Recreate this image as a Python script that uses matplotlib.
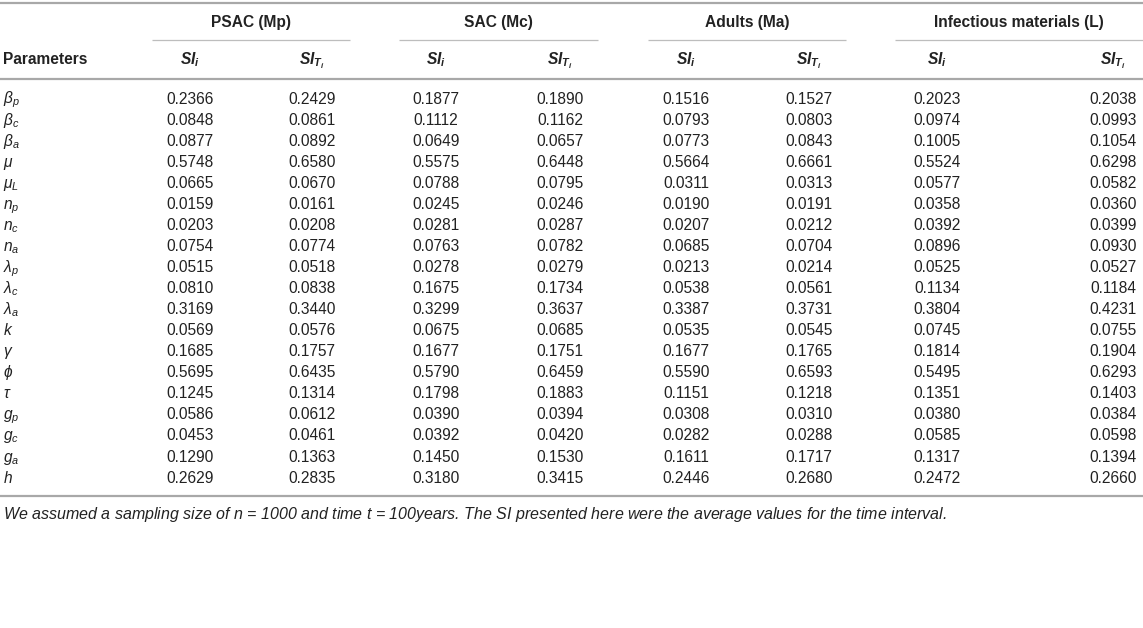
import matplotlib
matplotlib.use('Agg')
import matplotlib.pyplot as plt

plt.rcParams['font.family'] = ['Liberation Sans', 'DejaVu Sans']
plt.rcParams['mathtext.fontset'] = 'custom'
plt.rcParams['mathtext.rm'] = 'Liberation Sans'
plt.rcParams['mathtext.it'] = 'Liberation Sans:italic'
plt.rcParams['mathtext.bf'] = 'Liberation Sans:bold'
plt.rcParams['mathtext.bfit'] = 'Liberation Sans:italic:bold'

# table content
groups = ['PSAC (Mp)', 'SAC (Mc)', 'Adults (Ma)', 'Infectious materials (L)']
sub_headers = [r'$\mathbfit{SI}_{\mathbfit{i}}$', r'$\mathbfit{SI}_{\mathbfit{T}_{\mathbfit{i}}}$']
params = [r'$\beta_p$', r'$\beta_c$', r'$\beta_a$', r'$\mu$', r'$\mu_L$', r'$n_p$', r'$n_c$', r'$n_a$',
          r'$\lambda_p$', r'$\lambda_c$', r'$\lambda_a$', r'$k$', r'$\gamma$', r'$\phi$', r'$\tau$',
          r'$g_p$', r'$g_c$', r'$g_a$', r'$h$']

psac_si = [0.2366, 0.0848, 0.0877, 0.5748, 0.0665, 0.0159, 0.0203, 0.0754, 0.0515, 0.0810,
           0.3169, 0.0569, 0.1685, 0.5695, 0.1245, 0.0586, 0.0453, 0.1290, 0.2629]
psac_st = [0.2429, 0.0861, 0.0892, 0.6580, 0.0670, 0.0161, 0.0208, 0.0774, 0.0518, 0.0838,
           0.3440, 0.0576, 0.1757, 0.6435, 0.1314, 0.0612, 0.0461, 0.1363, 0.2835]
sac_si = [0.1877, 0.1112, 0.0649, 0.5575, 0.0788, 0.0245, 0.0281, 0.0763, 0.0278, 0.1675,
          0.3299, 0.0675, 0.1677, 0.5790, 0.1798, 0.0390, 0.0392, 0.1450, 0.3180]
sac_st = [0.1890, 0.1162, 0.0657, 0.6448, 0.0795, 0.0246, 0.0287, 0.0782, 0.0279, 0.1734,
          0.3637, 0.0685, 0.1751, 0.6459, 0.1883, 0.0394, 0.0420, 0.1530, 0.3415]
adult_si = [0.1516, 0.0793, 0.0773, 0.5664, 0.0311, 0.0190, 0.0207, 0.0685, 0.0213, 0.0538,
            0.3387, 0.0535, 0.1677, 0.5590, 0.1151, 0.0308, 0.0282, 0.1611, 0.2446]
adult_st = [0.1527, 0.0803, 0.0843, 0.6661, 0.0313, 0.0191, 0.0212, 0.0704, 0.0214, 0.0561,
            0.3731, 0.0545, 0.1765, 0.6593, 0.1218, 0.0310, 0.0288, 0.1717, 0.2680]
inf_si = [0.2023, 0.0974, 0.1005, 0.5524, 0.0577, 0.0358, 0.0392, 0.0896, 0.0525, 0.1134,
          0.3804, 0.0745, 0.1814, 0.5495, 0.1351, 0.0380, 0.0585, 0.1317, 0.2472]
inf_st = [0.2038, 0.0993, 0.1054, 0.6298, 0.0582, 0.0360, 0.0399, 0.0930, 0.0527, 0.1184,
          0.4231, 0.0755, 0.1904, 0.6293, 0.1403, 0.0384, 0.0598, 0.1394, 0.2660]

columns = [psac_si, psac_st, sac_si, sac_st, adult_si, adult_st, inf_si, inf_st]
footnote = ('We assumed a sampling size of $n$ = 1000 and time $t$ = 100years. '
            'The SI presented here were the average values for the time interval.')

# layout (pixel coords)
W, H = 1143, 628
col_x = [190, 312, 436, 560, 686, 809, 937, 1113]
group_spans = [(152, 350), (399, 598), (648, 846), (895, 1143)]
row_y0, row_dy = 98, 21.06
fs = 11.2
base = 5.5  # centre of digits -> baseline
txt = '#222222'
rule = '#a8a8a8'

fig = plt.figure(figsize=(W / 100, H / 100), dpi=100)
ax = fig.add_axes([0, 0, 1, 1])
ax.set_xlim(0, W)
ax.set_ylim(H, 0)
ax.axis('off')

# rules
ax.plot([0, W], [3, 3], color=rule, lw=1.6, solid_capstyle='butt')
ax.plot([0, W], [79, 79], color=rule, lw=1.6, solid_capstyle='butt')
ax.plot([0, W], [496, 496], color=rule, lw=1.6, solid_capstyle='butt')
for (a, b), name in zip(group_spans, groups):
    ax.plot([a, b], [40, 40], color='#bdbdbd', lw=0.9, solid_capstyle='butt')
    ax.text((a + b) / 2, 21 + base, name, ha='center', va='baseline', fontsize=fs,
            fontweight='bold', color=txt)

ax.text(3, 59 + base, 'Parameters', ha='left', va='baseline', fontsize=fs,
        fontweight='bold', color=txt)
for k, x in enumerate(col_x):
    ax.text(x, 59 + base, sub_headers[k % 2], ha='center', va='baseline', fontsize=fs, color=txt)

for r, p in enumerate(params):
    y = row_y0 + r * row_dy + base
    ax.text(3, y, p, ha='left', va='baseline', fontsize=fs, color=txt)
    for x, col in zip(col_x, columns):
        ax.text(x, y, f'{col[r]:.4f}', ha='center', va='baseline', fontsize=fs, color=txt)

ax.text(3, 514 + 5, footnote, ha='left', va='baseline', fontsize=11.55, style='italic', color=txt)

fig.savefig('out.png', dpi=100)
